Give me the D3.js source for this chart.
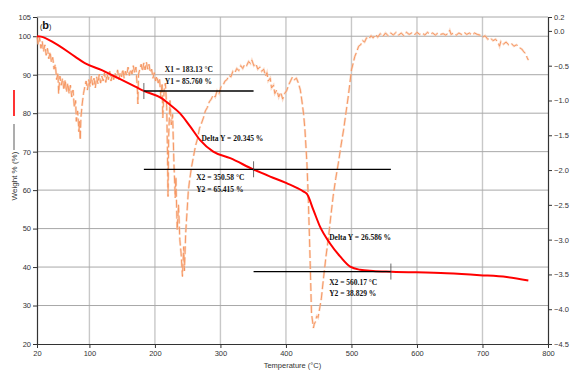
<!DOCTYPE html>
<html>
<head>
<meta charset="utf-8">
<script src="https://cdn.jsdelivr.net/npm/d3@7"></script>
<style>
  body { margin: 0; background: #fff; }
  svg { display: block; }
  .tick-label { font-family: "Liberation Sans Narrow", "Liberation Sans", Arial, sans-serif; font-size: 7.5px; fill: #333; }
  .note { font-family: "Liberation Serif", "Times New Roman", serif; font-size: 7.5px; font-weight: bold; fill: #111; }
</style>
</head>
<body>
<div id="chart"></div>
<script>
// TG curve: temperature (°C), weight (%)
const tgData = [
  [20, 100], [26, 99.9], [47, 98.2], [78, 94.7], [93, 93], [119, 91.2], [144, 89.1],
  [170, 86.9], [183, 85.8], [210, 83.9], [223, 82.2], [238, 80], [254, 76.5], [269, 73],
  [289, 70], [315, 68.3], [350, 65.4], [376, 63.5], [401, 61.8], [427, 59.6], [432, 59],
  [442, 54.8], [452, 50.5], [467, 46.2], [483, 42.7], [498, 40.1], [513, 39.3], [533, 39],
  [561, 38.8], [645, 38.4], [696, 37.9], [737, 37.4], [770, 36.5]
];

// DTG curve: temperature (°C), derivative (right axis)
const dtgData = [
  [20, -0.08], [22, -0.2], [24, -0.1], [26, -0.25], [28, -0.15], [30, -0.3], [32, -0.2], [34, -0.35],
  [36, -0.25], [38, -0.4], [40, -0.3], [42, -0.45], [44, -0.38], [46, -0.55], [48, -0.48], [50, -0.7],
  [52, -0.6], [53, -0.9], [55, -0.65], [57, -0.78], [59, -0.68], [61, -0.85], [63, -0.7], [65, -0.88],
  [67, -0.75], [69, -0.9], [71, -0.78], [73, -0.95], [75, -0.85], [77, -1.1], [79, -1.0], [80, -1.3],
  [82, -1.15], [84, -1.45], [85, -1.3], [86, -1.57], [87, -1.25], [89, -1.05], [91, -0.9], [93, -0.8],
  [95, -0.72], [97, -0.85], [99, -0.7], [101, -0.8], [103, -0.65], [105, -0.78], [107, -0.68], [109, -0.82],
  [111, -0.66], [113, -0.76], [115, -0.62], [117, -0.75], [119, -0.65], [121, -0.72], [123, -0.6], [125, -0.74],
  [127, -0.62], [129, -0.7], [131, -0.58], [133, -0.72], [135, -0.62], [137, -0.7], [139, -0.6], [141, -0.68],
  [143, -0.56], [145, -0.7], [147, -0.6], [149, -0.66], [151, -0.55], [153, -0.68], [155, -0.58], [157, -0.64],
  [159, -0.52], [161, -0.64], [163, -0.55], [165, -0.62], [167, -0.5], [169, -0.6], [171, -0.52], [173, -0.8],
  [174, -1.05], [175, -0.62], [177, -0.55], [179, -0.48], [181, -0.58], [183, -0.46], [185, -0.56], [187, -0.45],
  [189, -0.55], [191, -0.48], [193, -0.6], [195, -0.55], [197, -0.68], [199, -0.6], [201, -0.72], [203, -0.65],
  [205, -0.75], [207, -0.68], [209, -0.95], [211, -0.75], [212, -1.25], [214, -0.85], [216, -0.75], [218, -1.1],
  [219, -1.65], [220, -2.38], [221, -1.5], [223, -1.0], [225, -1.35], [227, -1.2], [229, -1.9], [231, -2.4],
  [232, -2.1], [234, -2.86], [236, -2.5], [238, -3.0], [240, -3.2], [242, -3.53], [244, -3.1], [245, -3.45],
  [247, -2.9], [249, -2.6], [251, -2.3], [253, -2.14], [256, -1.95], [259, -1.8], [262, -1.65], [265, -1.55],
  [268, -1.4], [271, -1.33], [274, -1.25], [277, -1.15], [280, -1.1], [283, -1.02], [286, -0.98], [289, -0.92],
  [292, -0.95], [295, -0.86], [298, -0.9], [301, -0.8], [304, -0.78], [307, -0.72], [310, -0.7], [313, -0.64],
  [316, -0.66], [319, -0.58], [322, -0.6], [325, -0.54], [328, -0.57], [331, -0.5], [334, -0.54], [337, -0.48],
  [340, -0.5], [343, -0.44], [346, -0.47], [348, -0.42], [351, -0.5], [354, -0.47], [357, -0.55], [360, -0.52],
  [363, -0.58], [366, -0.55], [369, -0.65], [371, -0.6], [373, -0.72], [376, -0.68], [378, -0.82], [381, -0.78],
  [383, -0.9], [386, -0.85], [389, -0.95], [392, -0.88], [395, -0.98], [398, -0.9], [401, -0.86], [404, -0.78],
  [407, -0.72], [410, -0.66], [413, -0.7], [416, -0.68], [419, -0.75], [422, -0.85], [425, -1.05], [427, -1.2],
  [429, -1.42], [432, -1.9], [434, -2.38], [436, -3.0], [437, -3.34], [439, -4.06], [442, -4.27], [443, -4.22],
  [445, -4.18], [447, -4.1], [449, -4.12], [452, -3.96], [454, -3.85], [457, -3.58], [461, -3.25], [465, -2.96],
  [469, -2.62], [472, -2.38], [476, -2.12], [480, -1.9], [484, -1.65], [488, -1.42], [492, -1.15], [495, -0.95],
  [498, -0.72], [500, -0.56], [503, -0.45], [505, -0.37], [508, -0.3], [511, -0.22], [514, -0.2], [517, -0.14],
  [520, -0.16], [523, -0.1], [526, -0.12], [530, -0.07], [533, -0.1], [537, -0.05], [540, -0.09], [544, -0.04],
  [548, -0.08], [552, -0.03], [556, -0.07], [560, -0.03], [564, -0.06], [568, -0.02], [572, -0.06], [576, -0.03],
  [580, -0.07], [584, -0.02], [588, -0.05], [592, -0.03], [596, -0.06], [600, -0.02], [604, -0.05], [608, -0.03],
  [612, -0.06], [616, -0.02], [620, -0.05], [624, -0.03], [628, -0.06], [632, -0.03], [636, -0.05], [640, -0.04],
  [644, -0.06], [648, -0.03], [650, 0.01], [652, -0.05], [656, -0.03], [660, -0.06], [664, -0.03], [668, -0.05],
  [672, -0.02], [676, -0.05], [680, -0.03], [684, -0.06], [688, -0.03], [692, -0.05], [696, -0.06], [700, -0.09],
  [704, -0.07], [708, -0.12], [712, -0.1], [716, -0.14], [720, -0.12], [724, -0.17], [726, -0.22], [728, -0.15],
  [732, -0.19], [736, -0.16], [740, -0.2], [744, -0.18], [748, -0.22], [752, -0.2], [756, -0.24], [760, -0.26],
  [763, -0.3], [766, -0.33], [768, -0.38], [770, -0.42]
];

const xTicks = [20, 100, 200, 300, 400, 500, 600, 700, 800];
const yLeftTicks = [20, 30, 40, 50, 60, 70, 80, 90, 100, 105];
const yRightTicks = [0.2, 0.0, -0.5, -1.0, -1.5, -2.0, -2.5, -3.0, -3.5, -4.0, -4.5];

// reading lines: weight level, from temp, to temp, marker temp
const readLines = [
  { w: 85.760, from: 183.13, to: 350.58, mark: 183.13 },
  { w: 65.415, from: 183.13, to: 560.17, mark: 350.58 },
  { w: 38.829, from: 350.58, to: 560.17, mark: 560.17 }
];
const noteLines = [
  ['X1 = 183.13 °C', 'Y1 = 85.760 %'],
  ['Delta Y = 20.345 %'],
  ['X2 = 350.58 °C', 'Y2 = 65.415 %'],
  ['Delta Y = 26.586 %'],
  ['X2 = 560.17 °C', 'Y2 = 38.829 %']
];

const W = 570, H = 372;
const margin = { top: 17, right: 22, bottom: 28, left: 37 };

const svg = d3.select('#chart').append('svg')
  .attr('width', W)
  .attr('height', H);

const x = d3.scaleLinear().domain([20, 800]).range([margin.left, W - margin.right]);
const yL = d3.scaleLinear().domain([20, 105]).range([H - margin.bottom, margin.top]);
const yR = d3.scaleLinear().domain([-4.5, 0.2]).range([H - margin.bottom, margin.top]);

const x0 = margin.left, x1 = W - margin.right, y0 = H - margin.bottom, y1 = margin.top;

// grid
svg.append('g')
  .selectAll('line')
  .data(xTicks.filter(d => d > 20 && d < 800))
  .enter().append('line')
  .attr('x1', d => x(d)).attr('x2', d => x(d))
  .attr('y1', y1).attr('y2', y0)
  .attr('stroke', '#c8c8c8')
  .attr('stroke-width', 1.4);

svg.append('g')
  .selectAll('line')
  .data(yLeftTicks.filter(d => d > 20))
  .enter().append('line')
  .attr('x1', x0).attr('x2', x1)
  .attr('y1', d => yL(d)).attr('y2', d => yL(d))
  .attr('stroke', '#a8a8a8')
  .attr('stroke-width', 1);

// axes
const axisB = svg.append('g')
  .attr('transform', `translate(0,${y0})`)
  .call(d3.axisBottom(x).tickValues(xTicks).tickSize(4).tickSizeOuter(0).tickFormat(d3.format('d')));
const axisL = svg.append('g')
  .attr('transform', `translate(${x0},0)`)
  .call(d3.axisLeft(yL).tickValues(yLeftTicks).tickSize(4).tickSizeOuter(0).tickFormat(d3.format('d')));
const axisR = svg.append('g')
  .attr('transform', `translate(${x1},0)`)
  .call(d3.axisRight(yR).tickValues(yRightTicks).tickSize(4).tickSizeOuter(0).tickFormat(d3.format('.1f')));

[axisB, axisL, axisR].forEach(g => {
  g.select('.domain').attr('stroke', '#333').attr('stroke-width', 1.2);
  g.selectAll('.tick line').attr('stroke', '#333');
  g.selectAll('.tick text').attr('class', 'tick-label').attr('fill', null);
});
axisL.selectAll('.tick text').attr('x', -6);
axisR.selectAll('.tick text').attr('x', 6);
axisB.selectAll('.tick text').attr('y', 7);

// DTG (right axis)
const dtgLine = d3.line()
  .x(d => x(d[0]))
  .y(d => yR(d[1]));

svg.append('path')
  .datum(dtgData)
  .attr('fill', 'none')
  .attr('stroke', '#f8c2a0')
  .attr('stroke-width', 2.2)
  .attr('stroke-opacity', 0.6)
  .attr('stroke-dasharray', '8,3')
  .attr('d', dtgLine);

svg.append('path')
  .datum(dtgData)
  .attr('fill', 'none')
  .attr('stroke', '#f5915a')
  .attr('stroke-width', 0.9)
  .attr('stroke-dasharray', '8,3')
  .attr('d', dtgLine);

// TG (left axis)
const tgLine = d3.line()
  .curve(d3.curveMonotoneX)
  .x(d => x(d[0]))
  .y(d => yL(d[1]));

svg.append('path')
  .datum(tgData)
  .attr('fill', 'none')
  .attr('stroke', '#ff0000')
  .attr('stroke-width', 2)
  .attr('d', tgLine);

// reading lines with marker ticks
readLines.forEach(r => {
  svg.append('line')
    .attr('x1', x(r.from)).attr('x2', x(r.to))
    .attr('y1', yL(r.w)).attr('y2', yL(r.w))
    .attr('stroke', '#000')
    .attr('stroke-width', 1.3);
  svg.append('line')
    .attr('x1', x(r.mark)).attr('x2', x(r.mark))
    .attr('y1', yL(r.w) - 8).attr('y2', yL(r.w) + 8)
    .attr('stroke', '#444')
    .attr('stroke-width', 0.8);
});

// notes, anchored in data coordinates
const notePos = [
  { t: 215, w: 90.6 },
  { t: 271, w: 72.7 },
  { t: 263, w: 62.6 },
  { t: 466, w: 47.1 },
  { t: 466, w: 35.4 }
];
noteLines.forEach((lines, i) => {
  const t = svg.append('text')
    .attr('class', 'note')
    .attr('x', x(notePos[i].t))
    .attr('y', yL(notePos[i].w));
  lines.forEach((s, j) => {
    t.append('tspan')
      .attr('x', x(notePos[i].t))
      .attr('dy', j === 0 ? 0 : 11.5)
      .text(s);
  });
});

// panel label
const pl = svg.append('text')
  .attr('x', x0 + 3)
  .attr('y', y1 + 12)
  .style('font-family', 'Liberation Sans, Arial, sans-serif')
  .style('fill', '#111');
pl.append('tspan').style('font-size', '7px').text('(');
pl.append('tspan').style('font-size', '11px').style('font-weight', 'bold').text('b');
pl.append('tspan').style('font-size', '7px').text(')');

// axis titles
svg.append('text')
  .attr('x', (x0 + x1) / 2)
  .attr('y', H - 4)
  .attr('text-anchor', 'middle')
  .attr('class', 'tick-label')
  .text('Temperature (°C)');

svg.append('text')
  .attr('transform', `translate(17,${176}) rotate(-90)`)
  .attr('text-anchor', 'middle')
  .attr('class', 'tick-label')
  .style('font-size', '8px')
  .text('Weight % (%)');

// series keys beside the y title
svg.append('line')
  .attr('x1', 14).attr('x2', 14)
  .attr('y1', 90).attr('y2', 116)
  .attr('stroke', '#ff0000').attr('stroke-width', 1.6);
svg.append('line')
  .attr('x1', 14).attr('x2', 14)
  .attr('y1', 124).attr('y2', 150)
  .attr('stroke', '#999').attr('stroke-width', 1.6);
</script>
</body>
</html>
